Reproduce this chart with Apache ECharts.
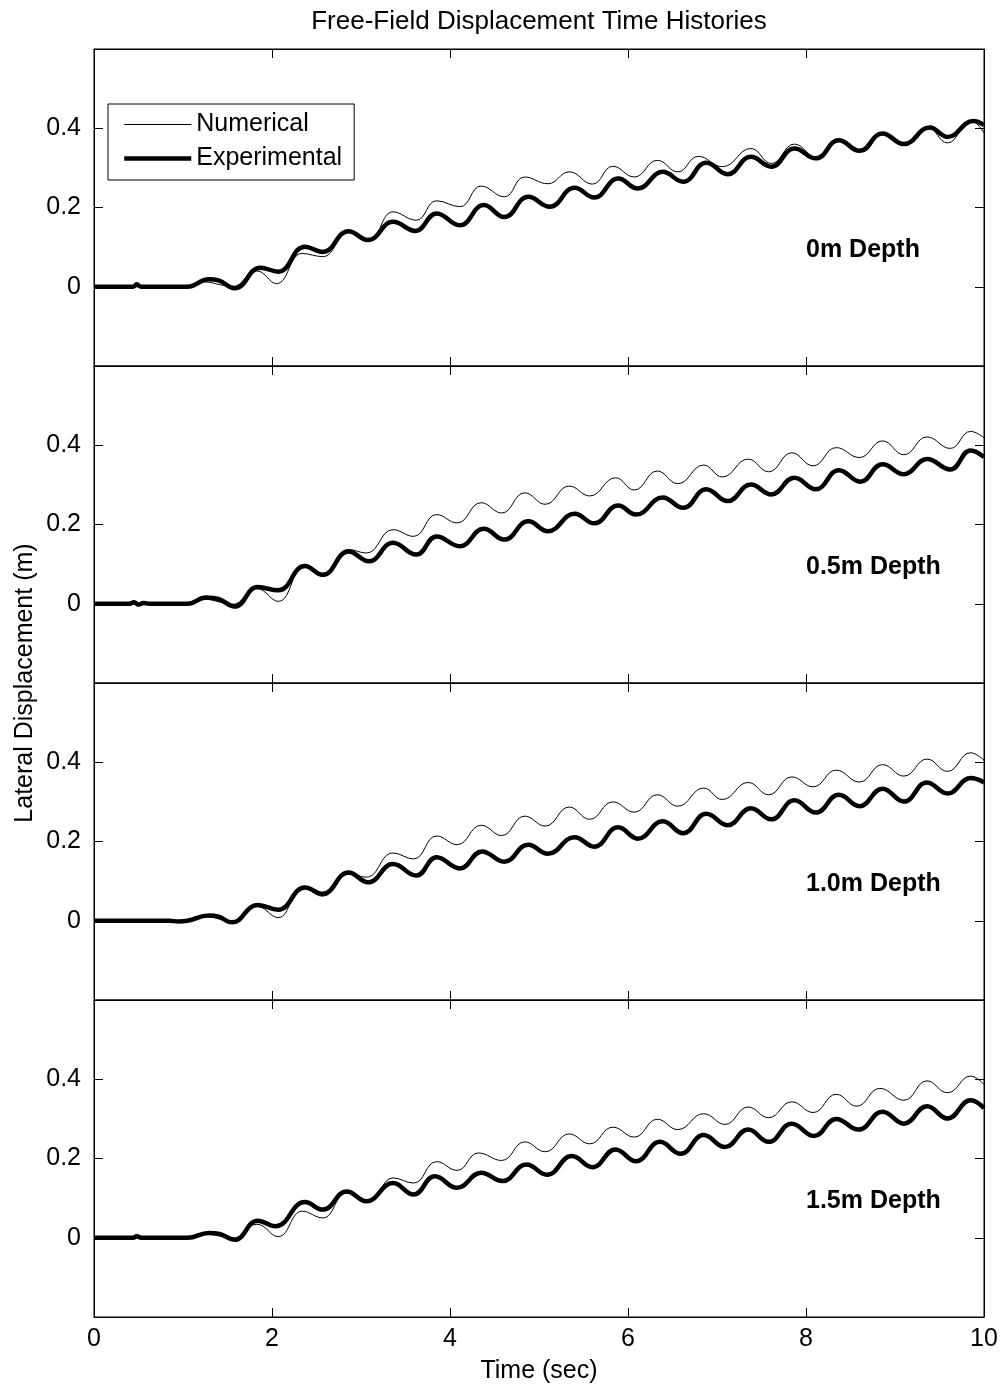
<!DOCTYPE html>
<html>
<head>
<meta charset="utf-8">
<title>Free-Field Displacement Time Histories</title>
<script src="https://cdn.jsdelivr.net/npm/echarts@6/dist/echarts.min.js"></script>
<style>
  html, body { margin: 0; padding: 0; background: #fff; }
  #chart { width: 1008px; height: 1389px; }
</style>
</head>
<body>
<div id="chart"></div>
<script>
// Free-field lateral displacement (m) versus time (s), four depths.
// Each series is a list of [time, displacement] pairs.

const depthLabels = ['0m Depth', '0.5m Depth', '1.0m Depth', '1.5m Depth'];
const xTicks = [0, 2, 4, 6, 8, 10];
const yTickLabels = ['0', '0.2', '0.4'];

// 0 m depth
const num0 = [[0,0],[1.05,0],[1.25,0.012],[1.42,0.005],[1.55,0.0],[1.83,0.040],[2.05,0.008],[2.34,0.084],[2.57,0.076],[2.86,0.139],[3.09,0.118],[3.36,0.189],[3.62,0.168],[3.85,0.217],[4.11,0.202],[4.35,0.254],[4.61,0.227],[4.84,0.277],[5.10,0.260],[5.34,0.290],[5.60,0.259],[5.83,0.304],[6.07,0.277],[6.33,0.319],[6.56,0.290],[6.79,0.329],[7.06,0.303],[7.38,0.349],[7.61,0.311],[7.87,0.360],[8.13,0.324],[8.37,0.371],[8.63,0.340],[8.86,0.385],[9.10,0.357],[9.36,0.403],[9.59,0.363],[9.85,0.420],[10,0.388]];
const exp0 = [[0,0],[0.44,0],[0.48,0.006],[0.53,0],[1.05,0],[1.29,0.019],[1.40,0.016],[1.58,-0.004],[1.87,0.048],[2.07,0.038],[2.37,0.101],[2.57,0.088],[2.86,0.140],[3.08,0.118],[3.36,0.164],[3.61,0.141],[3.85,0.185],[4.11,0.155],[4.38,0.206],[4.61,0.176],[4.88,0.227],[5.12,0.202],[5.40,0.250],[5.62,0.225],[5.89,0.273],[6.11,0.248],[6.39,0.290],[6.62,0.265],[6.88,0.313],[7.12,0.284],[7.38,0.328],[7.61,0.303],[7.87,0.349],[8.11,0.324],[8.37,0.370],[8.60,0.343],[8.86,0.387],[9.10,0.360],[9.39,0.402],[9.59,0.378],[9.88,0.418],[10,0.408]];

// 0.5 m depth
const num05 = [[0,0],[1.05,0],[1.25,0.011],[1.42,0.004],[1.55,-0.002],[1.83,0.038],[2.07,0.006],[2.37,0.099],[2.57,0.069],[2.86,0.137],[3.06,0.128],[3.36,0.187],[3.59,0.170],[3.85,0.225],[4.08,0.204],[4.35,0.255],[4.58,0.229],[4.84,0.280],[5.07,0.251],[5.34,0.297],[5.57,0.272],[5.86,0.318],[6.07,0.287],[6.33,0.335],[6.56,0.303],[6.85,0.350],[7.06,0.320],[7.35,0.365],[7.58,0.333],[7.84,0.381],[8.08,0.348],[8.34,0.394],[8.60,0.369],[8.86,0.411],[9.10,0.376],[9.36,0.421],[9.62,0.392],[9.85,0.435],[10,0.419]];
const exp05 = [[0,0],[0.40,0],[0.45,0.004],[0.50,-0.002],[0.56,0.002],[0.62,0],[1.05,0],[1.26,0.016],[1.40,0.012],[1.58,-0.007],[1.84,0.042],[2.07,0.034],[2.37,0.095],[2.57,0.073],[2.86,0.132],[3.09,0.107],[3.36,0.154],[3.62,0.124],[3.85,0.170],[4.11,0.145],[4.38,0.189],[4.61,0.162],[4.88,0.208],[5.10,0.183],[5.40,0.227],[5.62,0.203],[5.89,0.248],[6.09,0.225],[6.39,0.268],[6.62,0.242],[6.88,0.289],[7.12,0.259],[7.38,0.301],[7.61,0.276],[7.87,0.318],[8.11,0.289],[8.37,0.337],[8.61,0.308],[8.86,0.352],[9.10,0.327],[9.36,0.365],[9.62,0.339],[9.85,0.387],[10,0.370]];

// 1.0 m depth
const num10 = [[0,0],[1.05,0],[1.27,0.010],[1.42,0.004],[1.55,-0.002],[1.83,0.036],[2.07,0.008],[2.34,0.084],[2.57,0.062],[2.86,0.118],[3.06,0.110],[3.36,0.171],[3.59,0.156],[3.85,0.214],[4.08,0.192],[4.35,0.241],[4.58,0.215],[4.84,0.264],[5.07,0.239],[5.34,0.287],[5.57,0.256],[5.83,0.300],[6.07,0.274],[6.33,0.318],[6.56,0.289],[6.85,0.335],[7.06,0.306],[7.35,0.349],[7.58,0.318],[7.84,0.363],[8.08,0.338],[8.34,0.380],[8.60,0.350],[8.86,0.394],[9.10,0.365],[9.36,0.408],[9.59,0.377],[9.85,0.424],[10,0.405]];
const exp10 = [[0,0],[0.85,0],[0.95,-0.002],[1.05,0],[1.29,0.013],[1.40,0.010],[1.55,-0.004],[1.84,0.040],[2.07,0.028],[2.37,0.084],[2.57,0.068],[2.86,0.122],[3.08,0.097],[3.36,0.143],[3.62,0.114],[3.85,0.160],[4.11,0.132],[4.36,0.175],[4.61,0.149],[4.88,0.192],[5.10,0.169],[5.40,0.211],[5.62,0.187],[5.89,0.236],[6.11,0.207],[6.39,0.251],[6.62,0.221],[6.88,0.270],[7.12,0.241],[7.38,0.284],[7.61,0.256],[7.87,0.304],[8.11,0.273],[8.37,0.318],[8.60,0.289],[8.86,0.333],[9.10,0.301],[9.36,0.349],[9.59,0.321],[9.85,0.360],[10,0.349]];

// 1.5 m depth
const num15 = [[0,0],[1.05,0],[1.27,0.009],[1.42,0.004],[1.55,-0.002],[1.83,0.034],[2.07,0.003],[2.34,0.067],[2.57,0.050],[2.84,0.113],[3.09,0.094],[3.36,0.151],[3.59,0.138],[3.85,0.192],[4.08,0.170],[4.32,0.214],[4.58,0.195],[4.84,0.242],[5.07,0.217],[5.34,0.262],[5.57,0.237],[5.83,0.279],[6.07,0.254],[6.33,0.299],[6.56,0.273],[6.85,0.313],[7.09,0.286],[7.35,0.330],[7.58,0.303],[7.84,0.343],[8.08,0.316],[8.34,0.362],[8.57,0.332],[8.83,0.377],[9.10,0.347],[9.36,0.396],[9.59,0.366],[9.85,0.408],[10,0.387]];
const exp15 = [[0,0],[0.44,0],[0.48,0.004],[0.53,0],[1.05,0],[1.29,0.012],[1.40,0.010],[1.58,-0.005],[1.84,0.043],[2.04,0.029],[2.37,0.090],[2.57,0.071],[2.84,0.117],[3.06,0.092],[3.36,0.138],[3.59,0.109],[3.83,0.155],[4.08,0.126],[4.35,0.164],[4.59,0.143],[4.86,0.185],[5.09,0.159],[5.37,0.206],[5.60,0.178],[5.86,0.223],[6.09,0.193],[6.36,0.242],[6.59,0.212],[6.85,0.259],[7.09,0.229],[7.35,0.273],[7.58,0.242],[7.84,0.288],[8.09,0.257],[8.34,0.300],[8.59,0.273],[8.86,0.318],[9.10,0.288],[9.36,0.332],[9.59,0.301],[9.85,0.347],[10,0.327]];

const numerical = [num0, num05, num10, num15];
const experimental = [exp0, exp05, exp10, exp15];

// ---- layout ----
const FONT = '"Liberation Sans", Arial, Helvetica, sans-serif';
const PLOT_LEFT = 94, PLOT_WIDTH = 890, PLOT_TOP = 49, PANEL_H = 317;
const THIN = 1, THICK = 4.5;

const grids = [], xAxes = [], yAxes = [], series = [], graphics = [];

function yLabel(v) {
  const s = String(Math.round(v * 10) / 10);
  return yTickLabels.indexOf(s) >= 0 ? s : '';
}

for (let i = 0; i < 4; i++) {
  const top = PLOT_TOP + i * PANEL_H;
  grids.push({ left: PLOT_LEFT, top: top, width: PLOT_WIDTH, height: PANEL_H,
    show: true, borderColor: '#000', borderWidth: 1, backgroundColor: 'transparent' });
  const last = i === 3;
  const common = { type: 'value', gridIndex: i, min: 0, max: 10, interval: 2,
    axisLine: { show: true, onZero: false, lineStyle: { color: '#000', width: 1 } },
    axisTick: { show: true, inside: true, length: 9, lineStyle: { color: '#000' } },
    splitLine: { show: false } };
  xAxes.push(Object.assign({}, common, { position: 'bottom',
    axisLabel: { show: last, color: '#000', fontSize: 25, fontFamily: FONT, margin: 10,
      formatter: v => (xTicks.indexOf(v) >= 0 ? String(v) : '') },
    name: last ? 'Time (sec)' : '', nameLocation: 'middle', nameGap: 42,
    nameTextStyle: { color: '#000', fontSize: 25, fontFamily: FONT } }));
  xAxes.push(Object.assign({}, common, { position: 'top', axisLabel: { show: false } }));
  const ycommon = { type: 'value', gridIndex: i, min: -0.2, max: 0.6, interval: 0.2,
    axisLine: { show: true, onZero: false, lineStyle: { color: '#000', width: 1 } },
    axisTick: { show: true, inside: true, length: 9, lineStyle: { color: '#000' } },
    splitLine: { show: false } };
  yAxes.push(Object.assign({}, ycommon, { position: 'left',
    axisLabel: { show: true, color: '#000', fontSize: 25, fontFamily: FONT, margin: 13, formatter: yLabel } }));
  yAxes.push(Object.assign({}, ycommon, { position: 'right', axisLabel: { show: false } }));

  series.push({ name: 'Numerical', type: 'line', xAxisIndex: 2 * i, yAxisIndex: 2 * i,
    data: numerical[i], showSymbol: false, symbol: 'none', smooth: 0.45,
    lineStyle: { color: '#000', width: THIN }, itemStyle: { color: '#000' }, z: 3, animation: false });
  series.push({ name: 'Experimental', type: 'line', xAxisIndex: 2 * i, yAxisIndex: 2 * i,
    data: experimental[i], showSymbol: false, symbol: 'none', smooth: 0.45,
    lineStyle: { color: '#000', width: THICK }, itemStyle: { color: '#000' }, z: 4, animation: false });

  graphics.push({ type: 'text', x: 806, y: top + 201, z: 10,
    style: { text: depthLabels[i], fill: '#000', font: 'bold 25px ' + FONT,
      textAlign: 'left', textVerticalAlign: 'middle' } });
}

graphics.push({ type: 'text', x: 539, y: 22, z: 10,
  style: { text: 'Free-Field Displacement Time Histories', fill: '#000', font: '26px ' + FONT,
    textAlign: 'center', textVerticalAlign: 'middle' } });
graphics.push({ type: 'text', x: 25, y: 683, rotation: Math.PI / 2, z: 10,
  style: { text: 'Lateral Displacement (m)', fill: '#000', font: '25px ' + FONT,
    textAlign: 'center', textVerticalAlign: 'middle' } });

const chart = echarts.init(document.getElementById('chart'), null, { renderer: 'canvas' });
chart.setOption({
  backgroundColor: '#fff',
  animation: false,
  grid: grids,
  xAxis: xAxes,
  yAxis: yAxes,
  legend: {
    data: [
      { name: 'Numerical', itemStyle: { opacity: 0 }, lineStyle: { color: '#000', width: THIN } },
      { name: 'Experimental', itemStyle: { opacity: 0 }, lineStyle: { color: '#000', width: THICK } }
    ],
    orient: 'vertical', left: 108, top: 104,
    itemWidth: 67, itemHeight: 14, itemGap: 9,
    padding: [8, 12, 9, 14],
    borderColor: '#000', borderWidth: 1, backgroundColor: '#fff',
    selectedMode: false,
    textStyle: { color: '#000', fontSize: 25, fontFamily: FONT, lineHeight: 25 }
  },
  graphic: graphics,
  series: series
});
</script>
</body>
</html>
